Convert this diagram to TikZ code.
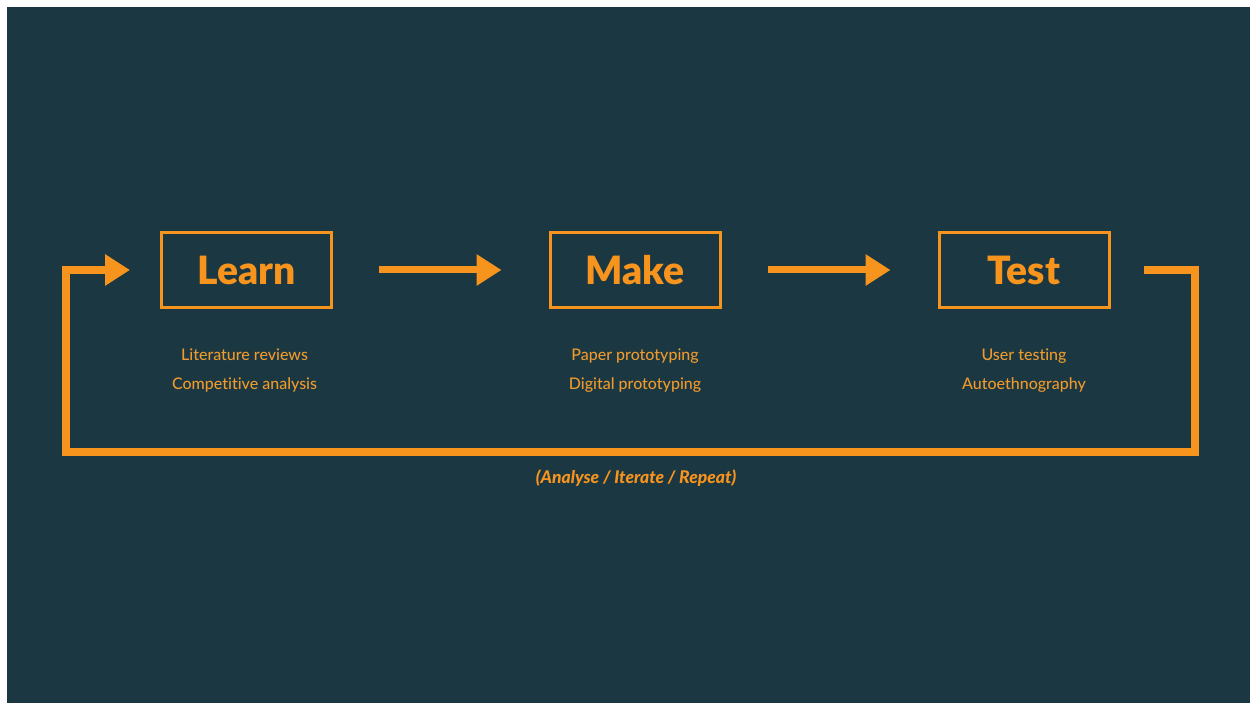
\documentclass[tikz,border=0pt]{standalone}
\usepackage{fontspec}
\setmainfont{Lato}
\newfontfamily\heavyfont{Lato Black}
\newfontfamily\heavyitfont{Lato Black Italic}
\newfontfamily\mediumfont[Ligatures=NoCommon]{Lato Medium}
\usetikzlibrary{arrows.meta}
\definecolor{bgteal}{HTML}{1B3742}
\definecolor{accent}{HTML}{F7941D}
\definecolor{subtext}{HTML}{EE9A2C}
\begin{document}
\begin{tikzpicture}[x=1pt,y=-1pt,
  stagebox/.style={draw=accent, line width=3pt, minimum width=170pt, minimum height=75pt,
    inner sep=0pt, text=accent, font=\heavyfont\fontsize{39}{44}\selectfont},
  note/.style={text=subtext, font=\mediumfont\fontsize{16}{19}\selectfont, inner sep=0pt, anchor=base},
  flow/.style={draw=accent, line width=7pt, -{Triangle[length=25pt,width=30pt]}},
  loop/.style={draw=accent, line width=8pt, line join=miter, -{Triangle[length=25pt,width=30pt]}}]
  % canvas
  \useasboundingbox (0,0) rectangle (1250,703);
  \fill[white] (0,0) rectangle (1250,703);
  \fill[bgteal] (7,7) rectangle (1250,703);

  % stages
  \node[stagebox] (learn) at (246.5,270) {Learn};
  \node[stagebox] (make)  at (635,270)   {Make};
  \node[stagebox] (test)  at (1024,270)  {Test};

  % methods under each stage
  \node[note] (l1) at (244.5,360) {Literature reviews};
  \node[note] (l2) at (244.5,389) {Competitive analysis};
  \node[note] (m1) at (635,360)   {Paper prototyping};
  \node[note] (m2) at (635,389)   {Digital prototyping};
  \node[note] (t1) at (1024,360)  {User testing};
  \node[note] (t2) at (1024,389)  {Autoethnography};

  % forward arrows
  \draw[flow] ([xshift=46pt]learn.east) -- ([xshift=-47pt]make.west);
  \draw[flow] ([xshift=46pt]make.east) -- ([xshift=-47pt]test.west);

  % feedback loop
  \coordinate (loopstart) at ([xshift=33pt]test.east);
  \coordinate (loopend) at ([xshift=-30pt]learn.west);
  \draw[loop] (loopstart) -- (1195,270) -- (1195,452) -- (66,452) -- (66,270) -- (loopend);

  \node[text=accent, font=\heavyitfont\fontsize{17.5}{20}\selectfont, inner sep=0pt, anchor=base]
    (cycle) at (636,483) {(Analyse / Iterate / Repeat)};
\end{tikzpicture}
\end{document}
